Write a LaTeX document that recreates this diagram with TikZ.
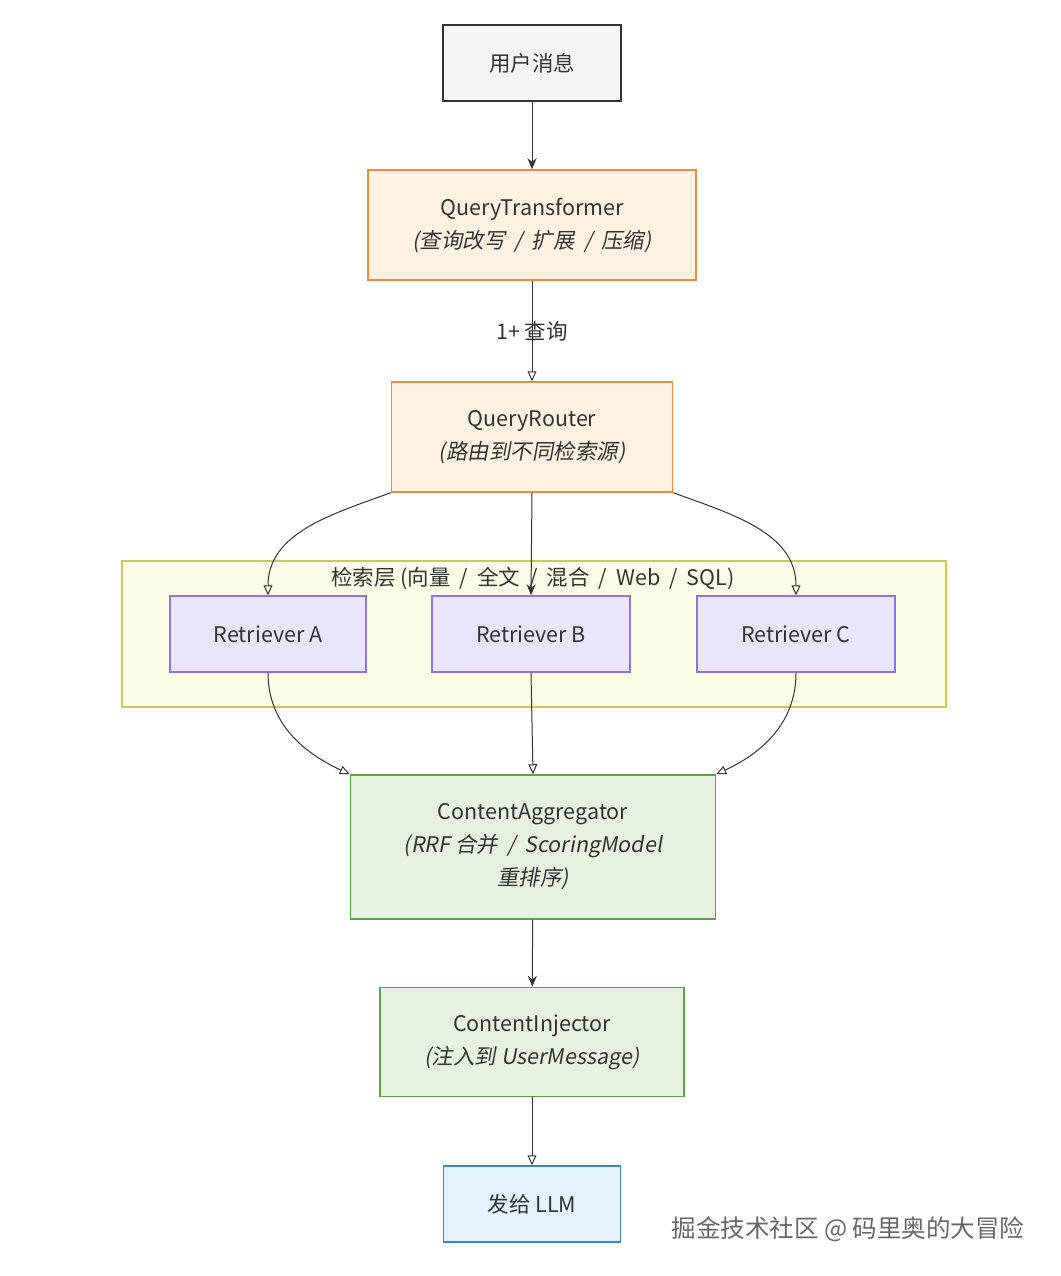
\documentclass[tikz,border=0pt]{standalone}
\usepackage{fontspec}
\setmainfont{Noto Sans CJK SC}
\newfontfamily\slantfont[FakeSlant=0.18]{Noto Sans CJK SC}
\usetikzlibrary{arrows.meta}

\definecolor{ink}{HTML}{333333}
\definecolor{plainfill}{HTML}{F4F4F4}
\definecolor{orangeline}{HTML}{F08A3C}
\definecolor{orangefill}{HTML}{FDF1E1}
\definecolor{purpleline}{HTML}{8E74E0}
\definecolor{purplefill}{HTML}{E9E6FA}
\definecolor{greenline}{HTML}{5E9F50}
\definecolor{greenfill}{HTML}{E6F1DF}
\definecolor{blueline}{HTML}{3C85C8}
\definecolor{bluefill}{HTML}{E3F2FB}
\definecolor{layerline}{HTML}{C9CB52}
\definecolor{layerfill}{HTML}{FBFDE7}

\newcommand\slashsep{\hspace{0.42em}/\hspace{0.42em}}

\begin{document}
\begin{tikzpicture}[x=1pt, y=1pt,
    stage/.style = {draw, line width=1.5pt, inner sep=0pt, align=center,
                    text=ink, font=\fontsize{21.5}{33}\selectfont},
    plainbox/.style  = {stage, draw=ink, fill=plainfill},
    orangebox/.style = {stage, draw=orangeline, fill=orangefill},
    purplebox/.style = {stage, draw=purpleline, fill=purplefill},
    greenbox/.style  = {stage, draw=greenline, fill=greenfill},
    bluebox/.style   = {stage, draw=blueline, fill=bluefill},
    layerbox/.style  = {draw=layerline, fill=layerfill, line width=1.3pt, inner sep=0pt},
    solidarrow/.style = {draw=ink, line width=1pt, -{Stealth[length=11pt, width=9pt]}},
    openarrow/.style  = {draw=ink, line width=1pt, -{Triangle[open, length=10pt, width=9pt]}}]
    \useasboundingbox (0,0) rectangle (1060,-1276);

    % main column
    \node[plainbox, minimum width=178pt, minimum height=76pt] (msg) at (532,-63) {用户消息};
    \node[orangebox, minimum width=328pt, minimum height=110pt] (qt) at (532,-225)
        {QueryTransformer\\{\slantfont (查询改写\slashsep 扩展\slashsep 压缩)}};
    \node[orangebox, minimum width=281pt, minimum height=110pt] (qr) at (532,-437)
        {QueryRouter\\{\slantfont (路由到不同检索源)}};

    % retrieval layer
    \node[layerbox, minimum width=824pt, minimum height=146pt] (layer) at (534,-634) {};
    \node[text=ink, font=\fontsize{21.5}{24}\selectfont] (layertitle) at (533,-578)
        {检索层 (向量\slashsep 全文\slashsep 混合\slashsep Web\slashsep SQL)};
    \node[purplebox, minimum width=196pt, minimum height=76pt] (ra) at (268,-634) {Retriever A};
    \node[purplebox, minimum width=198pt, minimum height=76pt] (rb) at (531,-634) {Retriever B};
    \node[purplebox, minimum width=198pt, minimum height=76pt] (rc) at (796,-634) {Retriever C};

    \node[greenbox, minimum width=365pt, minimum height=144pt] (agg) at (533,-847)
        {ContentAggregator\\{\slantfont (RRF 合并\slashsep ScoringModel}\\{\slantfont 重排序)}};
    \node[greenbox, minimum width=304pt, minimum height=109pt] (inj) at (532,-1042)
        {ContentInjector\\{\slantfont (注入到 UserMessage)}};
    \node[bluebox, minimum width=177pt, minimum height=76pt] (llm) at (532,-1204) {发给 LLM};

    % watermark
    \node[text=black!60, font=\fontsize{24.5}{24}\selectfont] (mark) at (848,-1229)
        {掘金技术社区 @ 码里奥的大冒险};

    % connectors
    \draw[solidarrow] (msg) -- (qt);
    \draw[openarrow] (qt) -- node[text=ink, font=\fontsize{21.5}{24}\selectfont] {1+ 查询} (qr);
    \draw[openarrow] (qr.south west) to[out=200, in=90] (ra.north);
    \draw[solidarrow] (qr.south) -- (rb.north);
    \draw[openarrow] (qr.south east) to[out=-20, in=90] (rc.north);
    \draw[openarrow] (ra.south) to[out=-90, in=155] (agg.north west);
    \draw[openarrow] (rb.south) -- (agg.north);
    \draw[openarrow] (rc.south) to[out=-90, in=25] (agg.north east);
    \draw[solidarrow] (agg) -- (inj);
    \draw[openarrow] (inj) -- (llm);
\end{tikzpicture}
\end{document}
